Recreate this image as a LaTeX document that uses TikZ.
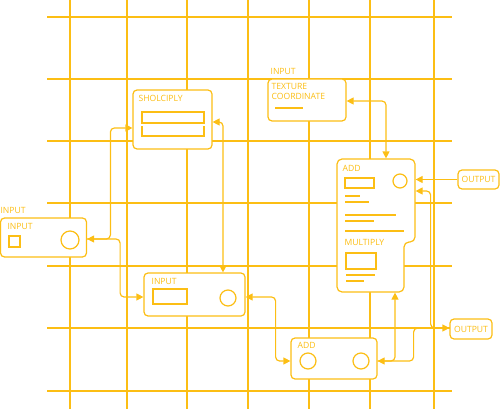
\documentclass[tikz,border=0pt]{standalone}
\usepackage{fontspec}
\setmainfont{Open Sans}
\usetikzlibrary{arrows.meta}
\definecolor{gold}{RGB}{252,190,20}

\begin{document}
\begin{tikzpicture}[x=1pt,y=-1pt,color=gold,line width=1.2pt,
  box/.style={draw,fill=white,rounded corners=4pt,inner sep=0pt},
  txt/.style={inner sep=0pt,anchor=west,font=\fontsize{8.6}{9.5}\selectfont},
  link/.style={rounded corners=4pt,>={Triangle[length=7pt,width=7pt]}}]
\useasboundingbox (0,0) rectangle (500,409);
% grid
\foreach \x in {70,127,187,248,309,370,434} \draw[line width=1.1pt] (\x,0) -- (\x,409);
\foreach \y in {17,79,141,203,266,328,391} \draw[line width=1.1pt] (47,\y) -- (452,\y);

% boxes
\node[box,minimum width=79pt,minimum height=59pt] (shl) at (172.5,119.5) {};
\node[box,minimum width=78pt,minimum height=42pt] (tex) at (307,100) {};
\node[box,minimum width=41pt,minimum height=19pt,font=\fontsize{8.6}{9.5}\selectfont] (outA) at (478.5,179.5) {OUTPUT};
\node[box,minimum width=86pt,minimum height=39pt] (inL) at (43.5,237.5) {};
\node[box,minimum width=101pt,minimum height=43pt] (inM) at (194.5,294.5) {};
\node[box,minimum width=86pt,minimum height=41pt] (addB) at (334,358.5) {};
\node[box,minimum width=42pt,minimum height=20pt,font=\fontsize{8.6}{9.5}\selectfont] (outB) at (471,329) {OUTPUT};
\draw[fill=white,rounded corners=5pt] (337,159) -- (415,159) -- (415,242) -- (404,242) -- (404,292) -- (337,292) -- cycle;
\node[inner sep=0pt,minimum width=78pt,minimum height=133pt] (addm) at (376,225.5) {};

% texts
\node[txt] (lblL) at (0,210) {INPUT};
\node[txt] (lblT) at (270,71) {INPUT};
\node[txt] (tSh) at (138,98) {SHOLCIPLY};
\node[txt,anchor=north west,align=left] (tTex) at (271,83) {TEXTURE\\COORDINATE};
\node[txt] (tAdd) at (342,168) {ADD};
\node[txt] (tMul) at (344,242) {MULTIPLY};
\node[txt] (tInL) at (7,226) {INPUT};
\node[txt] (tInM) at (151,281) {INPUT};
\node[txt] (tAddB) at (297,345) {ADD};

% widgets
\draw (142,112) rectangle (204,123);
\draw (142,126) -- (142,136) -- (204,136) -- (204,126);
\draw (275,108) -- (303,108);
\draw (9,236) rectangle (20,247);
\draw (70,240) circle[radius=9];
\draw (153,289) rectangle (187,304);
\draw (228,298) circle[radius=8];
\draw (308,361) circle[radius=8];
\draw (361,361) circle[radius=8];
\draw (345,178) rectangle (374,188);
\draw (400,181) circle[radius=7];
\foreach \y/\e in {196/360,202/369,215/396,221/374,231/404} \draw (345,\y) -- (\e,\y);
\draw (346,253) rectangle (376,269);
\draw (346,275) -- (375,275);
\draw (346,281) -- (364,281);

% connectors
\draw[link,<->] ([yshift=-8.5pt]shl.west) -- ++(-22,0) |- ([yshift=-1.5pt]inL.east);
\draw[link,->] ([yshift=-1.5pt]inL.east) -- ++(33,0) |- ([yshift=-2.5pt]inM.west);
\draw[link,<->] ([yshift=-2.5pt]shl.east) -| ([xshift=28.5pt]inM.north);
\draw[link,<->] ([yshift=-1pt]tex.east) -| ([xshift=10pt]addm.north);
\draw[link,->] (outA.west) -- (outA.west -| addm.east);
\draw[link,<->] ([yshift=34.5pt]addm.east) -- ++(15,0) |- ([yshift=1pt]outB.west);
\draw[link,<->] ([yshift=-2.5pt]addB.east) -| ([xshift=19pt]addm.south);
\draw[link] ([yshift=-2.5pt]addB.east) -- ++(36,0) |- ([yshift=1pt]outB.west);
\draw[link,<->] ([yshift=-2.5pt]inM.east) -- ++(30,0) |- ([yshift=-2.5pt]addB.west);
\end{tikzpicture}
\end{document}
